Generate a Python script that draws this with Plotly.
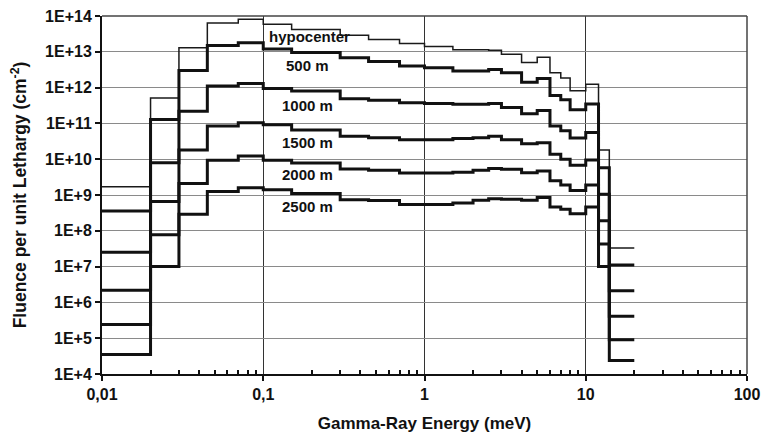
import plotly.graph_objects as go

# Energy group edges (MeV)
edges = [0.01, 0.02, 0.03, 0.045, 0.07, 0.1, 0.15, 0.3, 0.45, 0.7, 1.0, 1.5,
         2.0, 2.5, 3.0, 4.0, 5.0, 6.0, 7.0, 8.0, 10.0, 12.0, 14.0, 20.0]

labels = ["hypocenter", "500 m", "1000 m", "1500 m", "2000 m", "2500 m"]

hypocenter = [1.7e9, 5.1e11, 1.3e13, 6.4e13, 8.1e13, 5.9e13, 4.2e13, 2.9e13, 2.2e13,
              1.7e13, 1.4e13, 1.15e13, 1.15e13, 1.1e13, 8.5e12, 5.0e12, 7.0e12,
              2.6e12, 1.85e12, 8.2e11, 1.25e12, 1.8e10, 3.3e7]
m500 = [3.6e8, 1.28e11, 3.0e12, 1.5e13, 1.8e13, 1.2e13, 9.6e12, 6.8e12, 5.4e12,
        4.0e12, 3.6e12, 2.9e12, 2.9e12, 3.2e12, 2.6e12, 1.4e12, 1.8e12,
        6.0e11, 4.6e11, 2.4e11, 3.5e11, 5.8e9, 1.1e7]
m1000 = [2.5e7, 8.0e9, 2.2e11, 1.1e12, 1.3e12, 9.5e11, 8.0e11, 4.9e11, 4.4e11,
         3.8e11, 3.6e11, 3.4e11, 3.4e11, 3.6e11, 2.8e11, 1.85e11, 2.3e11,
         8.5e10, 6.2e10, 3.9e10, 5.6e10, 1.05e9, 2.1e6]
m1500 = [2.2e6, 6.6e8, 1.8e10, 8.5e10, 1.05e11, 9.2e10, 6.5e10, 4.4e10, 4.0e10,
         3.5e10, 3.5e10, 3.8e10, 4.0e10, 4.4e10, 3.5e10, 2.7e10, 2.9e10,
         1.37e10, 1.0e10, 6.8e9, 9.5e9, 1.9e8, 4.1e5]
m2000 = [2.4e5, 7.8e7, 2.1e9, 9.3e9, 1.23e10, 9.3e9, 7.8e9, 5.3e9, 4.9e9,
         4.1e9, 4.1e9, 4.3e9, 4.9e9, 5.5e9, 5.2e9, 4.2e9, 4.7e9,
         2.5e9, 1.9e9, 1.33e9, 1.9e9, 4.3e7, 9.1e4]
m2500 = [3.5e4, 1.0e7, 2.9e8, 1.26e9, 1.6e9, 1.4e9, 1.1e9, 7.4e8, 7.0e8,
         5.4e8, 5.4e8, 6.0e8, 7.1e8, 7.9e8, 7.6e8, 7.1e8, 8.5e8,
         4.6e8, 4.0e8, 3.0e8, 4.6e8, 1.0e7, 2.4e4]

series = [hypocenter, m500, m1000, m1500, m2000, m2500]

x_tickvals = [0.01, 0.1, 1, 10, 100]
x_ticktext = ["0,01", "0,1", "1", "10", "100"]
y_tickvals = [10 ** k for k in range(4, 15)]
y_ticktext = ["1E+%d" % k for k in range(4, 15)]

# label positions (log10 units) for the in-plot text
label_x = [-0.975, -0.727, -0.727, -0.727, -0.727, -0.727]
label_y = [13.43, 12.62, 11.50, 10.46, 9.58, 8.665]

FONT = "Liberation Sans, Arial"

fig = go.Figure()
for i, vals in enumerate(series):
    fig.add_trace(go.Scatter(
        x=edges, y=vals + [vals[-1]], mode="lines", line_shape="hv",
        line=dict(color="#1a1a1a" if i == 0 else "#111111", width=1.5 if i == 0 else 3),
        name=labels[i], showlegend=False, hoverinfo="skip"))

for i, lab in enumerate(labels):
    fig.add_annotation(x=label_x[i], y=label_y[i], xref="x", yref="y", text="<b>%s</b>" % lab,
                       showarrow=False, xanchor="left" if i == 0 else "center",
                       font=dict(family=FONT, size=15, color="#111"))

minor_x = [m * 10 ** d for d in range(-2, 2) for m in range(2, 10)]

fig.update_layout(
    width=774, height=436,
    margin=dict(l=102, r=27, t=16, b=62, autoexpand=False),
    paper_bgcolor="white", plot_bgcolor="white",
    font=dict(family=FONT, color="#111"),
    xaxis=dict(type="log", range=[-2, 2], tickmode="array", tickvals=x_tickvals, ticktext=x_ticktext,
               ticks="outside", ticklen=5, tickwidth=1.5, tickcolor="#111",
               showline=True, linecolor="#111", linewidth=2,
               showgrid=True, gridcolor="#333", gridwidth=1,
               minor=dict(tickmode="array", tickvals=minor_x, ticks="inside", ticklen=4,
                          tickcolor="#111", tickwidth=1.5, showgrid=False),
               tickfont=dict(size=16, family=FONT, color="#111", weight="bold"),
               title=dict(text="<b>Gamma-Ray Energy (meV)</b>", standoff=15,
                          font=dict(size=17, family=FONT, color="#111")),
               automargin=False, zeroline=False),
    yaxis=dict(type="log", range=[4, 14], tickmode="array", tickvals=y_tickvals, ticktext=y_ticktext,
               ticks="outside", ticklen=5, tickwidth=1.5, tickcolor="#111",
               showline=True, linecolor="#111", linewidth=2,
               showgrid=True, gridcolor="#8a8a8a", gridwidth=1.2,
               tickfont=dict(size=16, family=FONT, color="#111", weight="bold"),
               title=dict(text="<b>Fluence per unit Lethargy (cm<sup>-2</sup>)</b>", standoff=14,
                          font=dict(size=17.5, family=FONT, color="#111")),
               automargin=False, zeroline=False),
)

# top and right frame lines
fig.add_shape(type="line", xref="paper", yref="paper", x0=0, x1=1, y0=1, y1=1,
              line=dict(color="#444", width=1.5))
fig.add_shape(type="line", xref="paper", yref="paper", x0=1, x1=1, y0=0, y1=1,
              line=dict(color="#444", width=1.5))

# remove the default page margin so the figure sits at the window's top-left corner
fig.write_html("out.html", config={"displayModeBar": False},
               post_script="document.body.style.margin='0';document.body.style.overflow='hidden';")
